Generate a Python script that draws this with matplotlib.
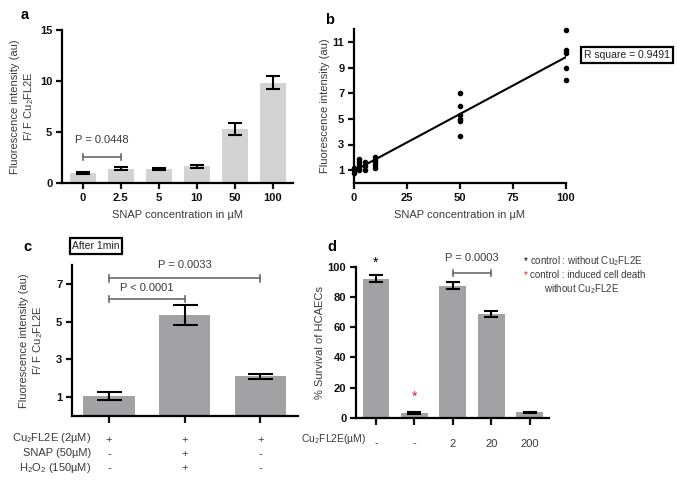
import numpy as np
import matplotlib
matplotlib.use("Agg")
import matplotlib.pyplot as plt

plt.rcParams["font.family"] = ["Liberation Sans", "DejaVu Sans"]
plt.rcParams["mathtext.fontset"] = "custom"
plt.rcParams["mathtext.rm"] = "Liberation Sans"
plt.rcParams["mathtext.it"] = "Liberation Sans:italic"
plt.rcParams["mathtext.bf"] = "Liberation Sans:bold"

# ---- panel a: mean fluorescence vs SNAP concentration
a_labels = ["0", "2.5", "5", "10", "50", "100"]
a_means = [1.0, 1.4, 1.35, 1.65, 5.3, 9.85]
a_err = [0.12, 0.15, 0.12, 0.15, 0.55, 0.65]

# ---- panel b: individual points and linear fit
b_x = [0, 0, 0, 0,
       2.5, 2.5, 2.5, 2.5, 2.5,
       5, 5, 5,
       10, 10, 10, 10, 10,
       50, 50, 50, 50, 50, 50,
       100, 100, 100, 100, 100]
b_y = [0.8, 1.0, 1.1, 1.2,
       1.0, 1.2, 1.4, 1.6, 1.9,
       1.0, 1.3, 1.6,
       1.2, 1.4, 1.6, 1.8, 2.0,
       3.7, 4.8, 5.0, 5.3, 6.0, 7.0,
       8.0, 9.0, 10.1, 10.4, 11.9]
b_r2 = "R square = 0.9491"

# ---- panel c: after 1 min
c_means = [1.05, 5.35, 2.1]
c_err = [0.2, 0.55, 0.15]
c_rows = [r"Cu$_2$FL2E (2µM)", "SNAP (50µM)", r"H$_2$O$_2$ (150µM)"]
c_signs = [["+", "+", "+"], ["-", "+", "-"], ["-", "+", "-"]]

# ---- panel d: survival
d_labels = ["-", "-", "2", "20", "200"]
d_means = [92, 3, 87.5, 68.5, 3.5]
d_err = [2.2, 0.6, 2.5, 2.0, 0.6]

W, H = 683, 484
light = "#d3d3d3"
mid = "#a2a2a5"
txt = "#3a3a3a"
brk = "#6a6a6a"
FS = 8


def box(l, r, t, b):
    return [l / W, 1 - b / H, (r - l) / W, (b - t) / H]


def fx(px):
    return px / W


def fy(py):
    return 1 - py / H


def style(ax, boldx=True):
    for s in ["top", "right"]:
        ax.spines[s].set_visible(False)
    for s in ["left", "bottom"]:
        ax.spines[s].set_linewidth(1.6)
    ax.tick_params(width=1.6, length=4, labelsize=FS, colors="#111", pad=3)
    labs = ax.get_yticklabels() + (ax.get_xticklabels() if boldx else [])
    for lab in labs:
        lab.set_fontweight("bold")


def bracket(ax, x0, x1, y, label, ty, dy):
    ax.plot([x0, x1], [y, y], color=brk, lw=1.2, clip_on=False)
    for xx in (x0, x1):
        ax.plot([xx, xx], [y - dy, y + dy], color=brk, lw=1.2, clip_on=False)
    ax.text((x0 + x1) / 2, ty, label, ha="center", va="center",
            fontsize=FS, color=txt, clip_on=False)


fig = plt.figure(figsize=(W / 100, H / 100), dpi=100)

# ---------------- a
ax = fig.add_axes(box(62, 293, 30, 183))
xa = np.arange(len(a_labels))
ax.bar(xa, a_means, width=0.7, color=light)
ax.errorbar(xa, a_means, yerr=a_err, fmt="none", ecolor="black",
            elinewidth=1.5, capsize=5, capthick=1.5)
ax.set_xlim(-0.55, 5.53)
ax.set_ylim(0, 15)
ax.set_yticks([0, 5, 10, 15])
ax.set_xticks(xa)
ax.set_xticklabels(a_labels)
style(ax)
ax.set_xlabel("SNAP concentration in µM", fontsize=FS, color=txt, labelpad=5)
ax.set_ylabel("Fluorescence intensity (au)\n" + r"F/ F Cu$_2$FL2E",
              fontsize=FS, color=txt, labelpad=3)
bracket(ax, 0, 1, 2.55, "P = 0.0448", 4.2, 0.3)
fig.text(fx(25), fy(15), "a", fontsize=10.5, fontweight="bold", ha="center", va="center")

# ---------------- b
ax = fig.add_axes(box(354, 566, 29, 183))
ax.scatter(b_x, b_y, s=9, color="black", zorder=3, clip_on=False)
k, c0 = np.polyfit(b_x, b_y, 1)
xs = np.array([0, 100])
ax.plot(xs, k * xs + c0, color="black", lw=1.5)
ax.set_xlim(0, 100)
ax.set_ylim(0, 12)
ax.set_xticks([0, 25, 50, 75, 100])
ax.set_yticks([1, 3, 5, 7, 9, 11])
style(ax)
ax.set_xlabel("SNAP concentration in µM", fontsize=FS, color=txt, labelpad=5)
ax.set_ylabel("Fluorescence intensity (au)", fontsize=FS, color=txt, labelpad=2)
fig.text(fx(584), fy(55), b_r2, fontsize=7.5, color="#222", ha="left", va="center",
         bbox=dict(boxstyle="square,pad=0.3", fc="white", ec="black", lw=1.6))
fig.text(fx(330), fy(20), "b", fontsize=10.5, fontweight="bold", ha="center", va="center")

# ---------------- c
ax = fig.add_axes(box(72, 298, 265, 416))
xc = np.arange(len(c_means))
ax.bar(xc, c_means, width=0.68, color=mid)
ax.errorbar(xc, c_means, yerr=c_err, fmt="none", ecolor="black",
            elinewidth=1.5, capsize=9, capthick=1.5)
ax.set_xlim(-0.49, 2.5)
ax.set_ylim(0, 8)
ax.set_yticks([1, 3, 5, 7])
ax.set_xticks(xc)
ax.set_xticklabels(["\n".join(col) for col in zip(*c_signs)],
                   fontsize=FS, color=txt, linespacing=1.45)
style(ax, boldx=False)
ax.tick_params(axis="x", length=5, pad=9, labelcolor=txt)
ax.set_ylabel("Fluorescence intensity (au)\n" + r"F/ F Cu$_2$FL2E",
              fontsize=FS, color=txt, labelpad=8)
for i, row in enumerate(c_rows):
    fig.text(fx(91), fy(438 + 15 * i), row, fontsize=FS, color=txt,
             ha="right", va="center")
bracket(ax, 0, 1, 6.2, "P < 0.0001", 6.8, 0.18)
bracket(ax, 0, 2, 7.3, "P = 0.0033", 8.0, 0.18)
fig.text(fx(96), fy(246), "After 1min", fontsize=7.5, color="#222", ha="center", va="center",
         bbox=dict(boxstyle="square,pad=0.25", fc="white", ec="black", lw=1.6))
fig.text(fx(27), fy(247), "c", fontsize=10.5, fontweight="bold", ha="center", va="center")

# ---------------- d
ax = fig.add_axes(box(356, 549, 266.7, 417.7))
xd = np.arange(len(d_means))
ax.bar(xd, d_means, width=0.7, color=mid)
ax.errorbar(xd, d_means, yerr=d_err, fmt="none", ecolor="black",
            elinewidth=1.5, capsize=5, capthick=1.5)
ax.set_xlim(-0.52, 4.5)
ax.set_ylim(0, 100)
ax.set_yticks([0, 20, 40, 60, 80, 100])
ax.set_xticks(xd)
ax.set_xticklabels(d_labels, fontsize=FS, color=txt)
style(ax, boldx=False)
ax.tick_params(axis="x", length=5, pad=10, labelcolor=txt)
ax.set_ylabel("% Survival of HCAECs", fontsize=FS, color=txt, labelpad=2)
ax.text(0, 102.5, "*", fontsize=10, ha="center", va="center", color="black", clip_on=False)
ax.text(1, 14.0, "*", fontsize=10, ha="center", va="center", color="#e0202a")
bracket(ax, 2, 3, 95.6, "P = 0.0003", 105.5, 2.0)
fig.text(fx(366), fy(439), r"Cu$_2$FL2E(µM)", fontsize=7.5, color=txt, ha="right", va="center")
LS = 7
fig.text(fx(524), fy(261), "*", fontsize=LS, color="black", ha="left", va="center")
fig.text(fx(530), fy(261), r"control : without Cu$_2$FL2E", fontsize=LS, color=txt,
         ha="left", va="center")
fig.text(fx(524), fy(275), "*", fontsize=LS, color="#e0202a", ha="left", va="center")
fig.text(fx(530), fy(275), "control : induced cell death", fontsize=LS, color=txt,
         ha="left", va="center")
fig.text(fx(544), fy(289), r"without Cu$_2$FL2E", fontsize=LS, color=txt,
         ha="left", va="center")
fig.text(fx(332), fy(247), "d", fontsize=10.5, fontweight="bold", ha="center", va="center")

fig.savefig("out.png", dpi=100)
